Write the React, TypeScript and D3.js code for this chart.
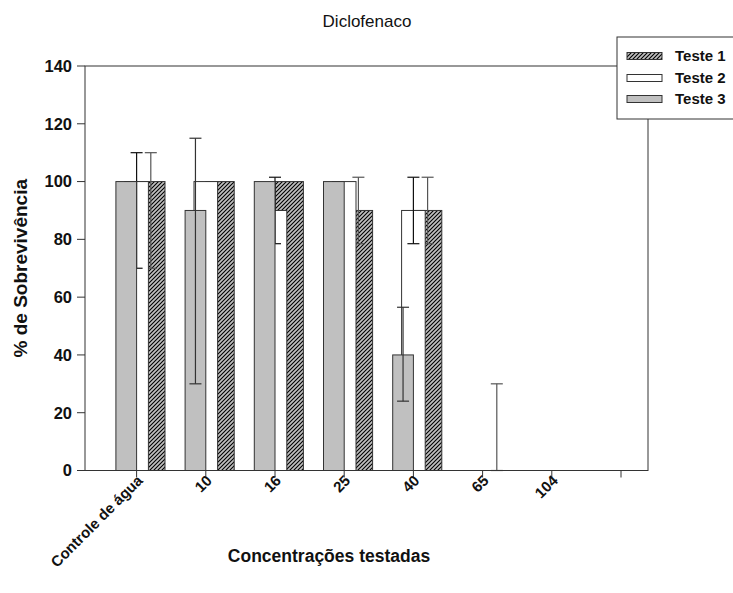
import React from "react";
import * as d3 from "d3";

const categories = ["Controle de água", "10", "16", "25", "40", "65", "104", ""];
const teste1 = [100, 100, 100, 90, 90, 0, 0];
const teste2 = [100, 100, 90, 100, 90, 0, 0];
const teste3 = [100, 90, 100, 100, 40, 0, 0];
const teste1Upper: (number | null)[] = [110, null, null, 101.5, 101.5, 30, null];
const teste1Lower: (number | null)[] = [70, null, null, 78.5, 78.5, 0, null];
const teste2Upper: (number | null)[] = [110, null, 101.5, null, 101.5, null, null];
const teste2Lower: (number | null)[] = [70, null, 78.5, null, 78.5, null, null];
const teste3Upper: (number | null)[] = [null, 115, null, null, 56.5, null, null];
const teste3Lower: (number | null)[] = [null, 30, null, null, 24, null, null];
const yTicks = [0, 20, 40, 60, 80, 100, 120, 140];
const legendLabels = ["Teste 1", "Teste 2", "Teste 3"];

const W = 733;
const H = 593;
const left = 85;
const right = 648;
const top = 66;
const bottom = 470.5;

export default function App() {
  const x = d3.scalePoint<string>().domain(categories).range([136.6, 621]).padding(0);
  const y = d3.scaleLinear().domain([0, 140]).range([bottom, top]);
  const font = "'Liberation Sans', Arial, Helvetica, sans-serif";
  const edge = "#333";

  const series = [
    { key: "t1", vals: teste1, up: teste1Upper, lo: teste1Lower, x0: 0, x1: 28.4, ex: 14.2, fill: "url(#hatch)", ec: "#555" },
    { key: "t2", vals: teste2, up: teste2Upper, lo: teste2Lower, x0: -11.8, x1: 11.8, ex: 0, fill: "#ffffff", ec: "#111" },
    { key: "t3", vals: teste3, up: teste3Upper, lo: teste3Lower, x0: -20.7, x1: 0, ex: -10.35, fill: "#c0c0c0", ec: "#333" },
  ];

  return (
    <svg width={W} height={H} style={{ position: "absolute", left: 0, top: 0, background: "#fff" }}>
      <defs>
        <pattern id="hatch" patternUnits="userSpaceOnUse" width={4} height={4}>
          <rect width={4} height={4} fill="#c0c0c0" />
          <path d="M-1,1 l2,-2 M0,4 l4,-4 M3,5 l2,-2" stroke="#000" strokeWidth={1.1} />
        </pattern>
      </defs>
      <rect x={0} y={0} width={W} height={H} fill="#fff" />
      <text x={367} y={27} textAnchor="middle" fontFamily={font} fontSize={17} fill="#111">Diclofenaco</text>

      {series.map((s) => (
        <g key={s.key}>
          {s.vals.map((v, i) => {
            const t = x(categories[i])!;
            if (v <= 0) return null;
            return (
              <rect key={"b" + i} x={t + s.x0} y={y(v)} width={s.x1 - s.x0} height={y(0) - y(v)}
                fill={s.fill} stroke={edge} strokeWidth={1} />
            );
          })}
          {s.vals.map((v, i) => {
            const u = s.up[i];
            const l = s.lo[i];
            if (u == null || l == null) return null;
            const cx = x(categories[i])! + s.ex;
            return (
              <g key={"e" + i} stroke={s.ec} strokeWidth={1.2}>
                <line x1={cx} x2={cx} y1={y(u)} y2={y(l)} />
                <line x1={cx - 6} x2={cx + 6} y1={y(u)} y2={y(u)} />
                <line x1={cx - 6} x2={cx + 6} y1={y(l)} y2={y(l)} />
              </g>
            );
          })}
        </g>
      ))}

      <rect x={left} y={top} width={right - left} height={bottom - top} fill="none" stroke={edge} strokeWidth={1} />

      {yTicks.map((t) => (
        <g key={t}>
          <line x1={left - 8} x2={left} y1={y(t)} y2={y(t)} stroke={edge} />
          <text x={72} y={y(t) + 5.8} textAnchor="end" fontFamily={font} fontWeight="bold" fontSize={16.5} fill="#111">{t}</text>
        </g>
      ))}
      <text transform={`translate(27,${(top + bottom) / 2}) rotate(-90)`} textAnchor="middle" fontFamily={font}
        fontWeight="bold" fontSize={19} fill="#111">% de Sobrevivência</text>

      {categories.map((c, i) => {
        const t = x(c)!;
        return (
          <g key={"x" + i}>
            <line x1={t} x2={t} y1={bottom} y2={bottom + 7} stroke={edge} />
            {c && (
              <text transform={`translate(${t + 7},${bottom + 11}) rotate(-45)`} textAnchor="end"
                fontFamily={font} fontWeight="bold" fontSize={15} fill="#111">{c}</text>
            )}
          </g>
        );
      })}
      <text x={329} y={562} textAnchor="middle" fontFamily={font} fontWeight="bold" fontSize={17.5} fill="#111">Concentrações testadas</text>

      <rect x={617} y={37} width={140} height={82} fill="#fff" stroke={edge} strokeWidth={1} />
      {legendLabels.map((l, i) => {
        const cy = [56, 78, 99][i];
        const fill = i === 0 ? "url(#hatch)" : i === 1 ? "#fff" : "#c0c0c0";
        return (
          <g key={l}>
            <rect x={627} y={cy - 3.5} width={35} height={7} fill={fill} stroke={edge} strokeWidth={1} />
            <text x={675} y={cy + 5} fontFamily={font} fontWeight="bold" fontSize={15} fill="#111">{l}</text>
          </g>
        );
      })}
    </svg>
  );
}
